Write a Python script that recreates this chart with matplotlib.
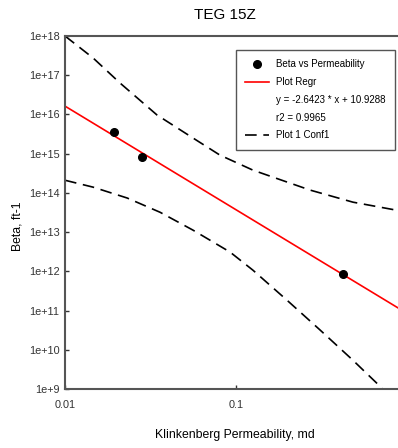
import matplotlib
matplotlib.use("Agg")
import matplotlib.pyplot as plt
from matplotlib.lines import Line2D

# data (log-log)
perm = [0.0193, 0.0281, 0.425]
beta = [3.6e15, 8.0e14, 8.5e11]

regr_x = [0.01, 1.0]
regr_y = [1.63e16, 8.49e10]

conf_up_x = [0.01, 0.0146, 0.0210, 0.0345, 0.0561, 0.0805, 0.1256, 0.271, 0.483, 0.875]
conf_up_y = [1.0e18, 2.75e17, 6.3e16, 9.7e15, 2.5e15, 9.2e14, 3.8e14, 1.18e14, 5.8e13, 3.6e13]
conf_lo_x = [0.01, 0.0146, 0.0231, 0.0360, 0.0561, 0.0923, 0.1256, 0.1986, 0.310, 0.483, 0.714]
conf_lo_y = [2.1e14, 1.4e14, 7.4e13, 3.2e13, 1.12e13, 3.1e12, 1.07e12, 1.84e11, 3.2e10, 5.4e9, 1.05e9]

yticks = [1e9, 1e10, 1e11, 1e12, 1e13, 1e14, 1e15, 1e16, 1e17, 1e18]
ytick_labels = ["1e+9", "1e+10", "1e+11", "1e+12", "1e+13", "1e+14",
                "1e+15", "1e+16", "1e+17", "1e+18"]
xticks = [0.01, 0.1]
xtick_labels = ["0.01", "0.1"]

plt.rcParams['font.family'] = ['Liberation Sans', 'DejaVu Sans']

W, H = 398, 448
fig = plt.figure(figsize=(W / 100, H / 100), dpi=100)
ax = fig.add_axes([65 / W, 1 - 389 / H, 342 / W, 353 / H])
ax.set_xscale('log')
ax.set_yscale('log')

ax.plot(perm, beta, 'o', color='black', ms=5.5, label='Beta vs Permeability', zorder=4)
ax.plot(regr_x, regr_y, color='red', lw=1.2, label='Plot Regr')
ax.plot(conf_up_x, conf_up_y, color='black', lw=1.2, dashes=(7, 4), label='Plot 1 Conf1')
ax.plot(conf_lo_x, conf_lo_y, color='black', lw=1.2, dashes=(7, 4))

ax.set_xlim(0.01, 1)
ax.set_ylim(1e9, 1e18)
ax.set_xticks(xticks)
ax.set_xticklabels(xtick_labels)
ax.set_yticks(yticks)
ax.set_yticklabels(ytick_labels)
ax.minorticks_off()
ax.tick_params(direction='in', length=3, width=1, colors='#333333', labelsize=7.8, pad=4)
ax.tick_params(axis='x', pad=8)
for s in ax.spines.values():
    s.set_color('#555555')
    s.set_linewidth(1.5)

h = ax.get_legend_handles_labels()[0]
blank = Line2D([], [], linestyle='none')
handles = [h[0], h[1], blank, blank, h[2]]
labels = ['Beta vs Permeability', 'Plot Regr', 'y = -2.6423 * x + 10.9288',
          'r2 = 0.9965', 'Plot 1 Conf1']
leg = ax.legend(handles, labels, loc='upper left', bbox_to_anchor=(171 / 342, 1 - 14 / 353),
                fontsize=7, fancybox=False, framealpha=1, edgecolor='#555555',
                handlelength=2.4, handletextpad=0.8, labelspacing=0.8,
                borderpad=0.95, borderaxespad=0)
leg.get_frame().set_linewidth(1)

fig.text(225 / W, 1 - 15 / H, 'TEG 15Z', ha='center', va='center', fontsize=11)
fig.text(235 / W, 1 - 435 / H, 'Klinkenberg Permeability, md', ha='center', va='center', fontsize=8.8)
fig.text(17 / W, 1 - 226 / H, 'Beta, ft-1', ha='center', va='center', rotation=90, fontsize=8.8)

fig.savefig('out.png', dpi=100)
